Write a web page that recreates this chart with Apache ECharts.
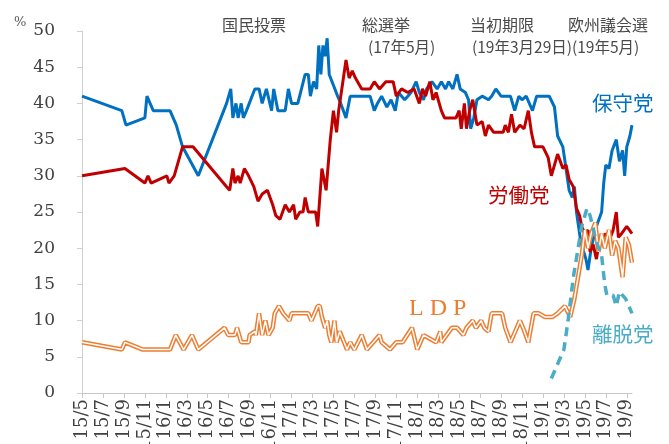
<!DOCTYPE html>
<html>
<head>
<meta charset="utf-8">
<script src="https://cdn.jsdelivr.net/npm/echarts@6/dist/echarts.min.js"></script>
<style>
html,body{margin:0;padding:0;background:#fff;}
#chart{width:669px;height:444px;}
</style>
</head>
<body>
<div id="chart"></div>
<script>
// x = months since 2015/5
var xTicks = ['15/5','15/7','15/9','15/11','16/1','16/3','16/5','16/7','16/9','16/11',
    '17/1','17/3','17/5','17/7','17/9','17/11','18/1','18/3','18/5','18/7','18/9','18/11',
    '19/1','19/3','19/5','19/7','19/9'];

// 保守党
var con = [[0,41],[3.8,39],[4.2,37],[6,38],[6.2,41],[6.8,39],[8.4,39],[9,37],[9.6,34],[11.1,30],
    [13.8,40],[14.2,42],[14.4,38],[14.7,40],[14.9,38],[15.2,40],[15.4,38],[15.7,39],[16.5,42],[16.9,42],
    [17.2,40],[17.6,42],[18.1,39],[18.3,42],[18.7,39],[19.4,39],[19.7,42],[20,40],[20.6,40],[21.3,44],
    [21.6,44],[21.8,41],[22.1,43],[22.4,42],[22.6,48],[22.8,44],[23,48],[23.2,46.5],[23.4,49],[23.6,44],
    [24,42.5],[24.4,41],[24.7,40],[25.2,38],[25.6,41],[27.5,41],[27.9,39],[28.2,40],[28.6,41],[29.1,39.5],
    [29.5,40.5],[29.9,39],[30.2,41.5],[30.8,40.5],[31.1,41],[31.4,41.5],[31.9,43],[32.2,41.5],[32.6,40.5],
    [32.9,42],[33.4,43],[33.9,42],[34.3,43],[34.7,42],[35,43],[35.4,42],[35.8,44],[36.1,42],[36.6,41.5],
    [36.9,40.5],[37.1,36.5],[37.4,38],[37.7,40.5],[38.2,41],[38.8,40.5],[39.1,41],[39.5,42],[40,41],
    [40.9,41],[41.3,39],[41.7,41],[42,40.5],[42.4,41],[42.7,40],[43,39],[43.4,41],[44.2,41],[44.6,41],
    [45.1,39.5],[45.4,35.5],[45.9,34],[46.2,31],[46.5,28],[46.8,27],[47,28.5],[47.2,25],[47.6,21],
    [48.1,18.5],[48.3,17],[48.6,20],[49.1,23],[49.6,25],[49.8,29],[50,31.5],[50.3,31],[50.6,33.5],
    [51,35],[51.3,32],[51.6,33.5],[51.8,30],[52,34],[52.3,35.5],[52.5,37]];

// 労働党
var lab = [[0,30],[4.1,31],[6,29],[6.3,30],[6.6,29],[8.1,30],[8.3,29],[8.8,30],[9.6,34],[10.6,34],
    [13.8,28.5],[14.1,28],[14.4,31],[14.6,29],[14.9,30],[15.1,29],[15.5,31],[15.9,30],[16.4,28.5],[16.8,26.5],
    [17.2,27.5],[17.7,28],[18.2,26],[18.5,24.5],[18.9,24],[19.4,26],[19.8,25],[20.2,26],[20.4,24],[20.8,25],
    [21.1,25],[21.3,27],[21.6,25],[22.3,25],[22.5,23],[22.9,31],[23.3,28],[23.7,35],[24,39],[24.3,36],
    [24.5,39],[24.8,42],[25.2,46],[25.5,43.5],[25.8,44.5],[26.1,43.5],[26.7,42],[27.5,42],[27.9,43],[28.4,42],
    [29,43],[29.7,43],[30,41],[30.5,42],[31.1,41.5],[31.7,42],[32.2,40],[32.5,42],[32.8,41],[33.2,43],
    [33.5,40.5],[33.8,41.5],[34.3,39],[34.6,38],[35.7,38],[36,39],[36.2,36.5],[36.5,40],[36.7,36.5],[37,39],
    [37.3,40.5],[37.7,37],[38.2,37.5],[38.5,35.5],[38.8,37],[39.3,36],[40.2,36],[40.4,37],[40.7,36],[41,38.5],
    [41.3,36],[41.8,37],[42.2,36.5],[42.6,39],[42.9,36],[43.2,34],[44,34],[44.5,32.5],[44.8,30],[45.4,33],
    [45.9,31],[46.2,31.5],[46.5,29.5],[46.9,28.5],[47.2,25.5],[47.5,24.5],[47.7,23],[48,22],[48.3,22.5],
    [48.5,19.5],[48.8,20.5],[49.1,18.5],[49.4,21],[50,22],[50.3,21],[50.7,22.5],[51,25],[51.2,21.5],
    [51.5,22],[52,23],[52.5,22]];

// LDP
var ldp = [[0,7],[3.8,6],[4.1,7],[5.8,6],[8.4,6],[8.95,8],[9.7,6],[10.5,8],[11.1,6],[13.6,9],
    [13.95,8],[14.6,8],[14.8,9],[15.2,7],[15.9,7],[16,8],[16.5,8.5],[16.6,8],[16.9,11],[17.2,8],
    [17.5,10],[17.8,8],[18.2,9],[18.4,11],[18.8,12],[19.2,11],[19.8,10],[20,11],[21.6,11],[21.9,10],
    [22.2,11],[22.5,12],[22.7,12],[22.9,10.5],[23.2,9],[23.4,10],[23.6,8],[23.8,7],[24.1,10],[24.3,7],
    [24.6,8.5],[25.3,6],[25.6,7],[26,6],[26.7,8],[27.2,6],[28.4,8],[28.6,7],[29.4,6],[30,7],
    [30.6,7],[31.5,9],[32,6],[32.6,8],[33.2,7.5],[33.8,7],[34.2,8.5],[34.3,7],[34.8,8],[35.3,9],
    [35.8,9],[36.4,8],[36.7,9],[37.3,10],[37.6,9],[38.1,10],[38.4,9],[38.8,8.5],[39.1,11],[40.1,11],
    [40.4,9],[40.9,7],[41.2,8],[41.8,10],[42.1,9],[42.6,7],[43.1,11],[43.6,11],[44.2,10.5],[44.9,10.5],
    [45.4,11],[46.1,12],[46.6,10.5],[47,13],[47.7,19],[48,22.5],[48.3,20],[48.6,22],[49,23.5],[49.3,19.5],
    [49.6,22],[49.9,20],[50.3,22.5],[50.6,19],[50.9,21],[51.2,20],[51.6,16],[51.9,21.5],[52.2,20.5],[52.5,18]];

// 離脱党
var brx = [[44.8,2],[46,6],[46.4,10],[46.9,16],[47.7,23],[48.2,25.5],[48.5,24.5],[48.9,22],[49.2,20.5],
    [49.6,19],[49.9,15],[50.1,13.5],[50.7,13.5],[51,12],[51.3,14],[51.9,13],[52.5,11]];

var tickValues = xTicks.map(function (t, i) { return i * 2; });

var myChart = echarts.init(document.getElementById('chart'));

var jp = '"Noto Sans CJK JP"';
function note(text, x, y, size, color, family) {
    return {
        type: 'text', x: x, y: y, z: 100,
        style: {
            text: text,
            font: size + 'px ' + (family || jp),
            fill: color,
            verticalAlign: 'middle'
        }
    };
}

option = {
    animation: false,
    grid: { left: 82, right: 37, top: 31, bottom: 51, outerBoundsMode: 'none', containLabel: false },
    xAxis: {
        type: 'value',
        min: 0,
        max: 52.5,
        splitLine: { show: false },
        axisLine: { lineStyle: { color: '#c8c8c8', width: 1 } },
        axisTick: { show: true, length: 5, customValues: tickValues, lineStyle: { color: '#c8c8c8' } },
        axisLabel: {
            customValues: tickValues,
            rotate: 90,
            margin: 6,
            color: '#404040',
            fontFamily: 'DejaVu Serif',
            fontSize: 18,
            formatter: function (v) { return xTicks[Math.round(v / 2)]; }
        }
    },
    yAxis: {
        type: 'value',
        min: 0,
        max: 50,
        interval: 5,
        splitLine: { show: false },
        axisLine: { show: true, lineStyle: { color: '#d0d0d0' } },
        axisTick: { show: true, length: 5, lineStyle: { color: '#d0d0d0' } },
        axisLabel: { color: '#404040', fontFamily: 'DejaVu Serif', fontSize: 17, margin: 27 }
    },
    graphic: [
        note('%', 14, 23, 13, '#595959', 'DejaVu Serif'),
        note('国民投票', 222, 25, 16, '#4a4a4a'),
        note('総選挙', 362, 25, 16, '#4a4a4a'),
        note('(17年5月)', 368, 47, 15.5, '#4a4a4a'),
        note('当初期限', 470, 25, 16, '#4a4a4a'),
        note('(19年3月29日)(19年5月)', 472, 47, 15.5, '#4a4a4a'),
        note('欧州議会選', 568, 25, 16, '#4a4a4a'),
        note('保守党', 592, 103, 20.5, '#0070c0'),
        note('労働党', 488, 195, 20.5, '#c00000'),
        note('L D P', 409, 309, 24, '#ed7d31', 'Liberation Serif'),
        note('離脱党', 592, 334, 20.5, '#4bacc6')
    ],
    series: [
        {
            name: '保守党', type: 'line', data: con, symbol: 'none',
            lineStyle: { color: '#0070c0', width: 3 }
        },
        {
            name: '労働党', type: 'line', data: lab, symbol: 'none',
            lineStyle: { color: '#c00000', width: 3 }
        },
        {
            name: 'LDP', type: 'line', data: ldp, symbol: 'none',
            lineStyle: { color: '#ed7d31', width: 4.5 }
        },
        {
            name: 'LDP-inner', type: 'line', data: ldp, symbol: 'none',
            lineStyle: { color: '#ffffff', width: 1.5 }
        },
        {
            name: '離脱党', type: 'line', data: brx, symbol: 'none',
            lineStyle: { color: '#4bacc6', width: 3.5, type: [9, 6] }
        }
    ]
};

myChart.setOption(option);
</script>
</body>
</html>
